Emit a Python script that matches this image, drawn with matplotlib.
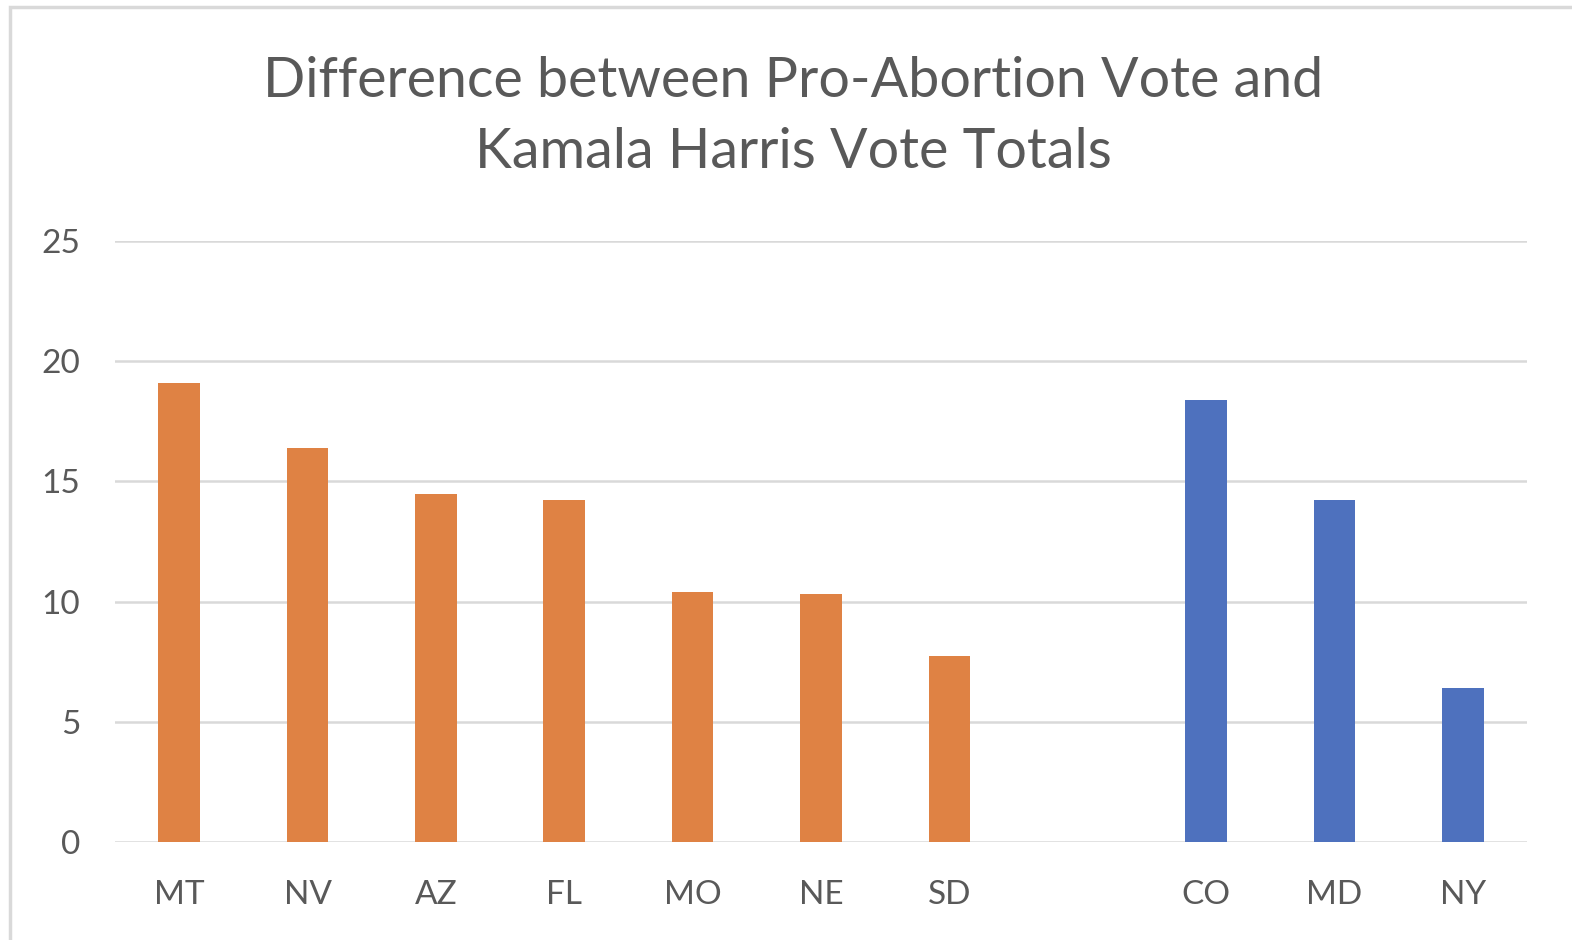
import matplotlib.pyplot as plt
from matplotlib.patches import Rectangle

states = ['MT', 'NV', 'AZ', 'FL', 'MO', 'NE', 'SD', '', 'CO', 'MD', 'NY']
orange_states = ['MT', 'NV', 'AZ', 'FL', 'MO', 'NE', 'SD']
orange_values = [19.08, 16.39, 14.49, 14.22, 10.40, 10.32, 7.72]
blue_states = ['CO', 'MD', 'NY']
blue_values = [18.38, 14.21, 6.42]
title_lines = ['Difference between Pro-Abortion Vote and', 'Kamala Harris Vote Totals']

ORANGE = '#DF8244'
BLUE = '#4E71BE'
TEXT = '#595959'
GRID = '#D9D9D9'

plt.rcParams['font.family'] = ['Lato', 'DejaVu Sans']

fig = plt.figure(figsize=(15.72, 9.4), dpi=100)
ax = fig.add_axes([115 / 1572, 98 / 940, 1412 / 1572, 601 / 940])

pos = {s: i for i, s in enumerate(states)}
ax.bar([pos[s] for s in orange_states], orange_values, width=0.325, color=ORANGE, zorder=3)
ax.bar([pos[s] for s in blue_states], blue_values, width=0.325, color=BLUE, zorder=3)

ax.set_xlim(-0.5, len(states) - 0.5)
ax.set_ylim(0, 25)
ax.set_yticks([0, 5, 10, 15, 20, 25])
ax.set_xticks(range(len(states)))
ax.set_xticklabels(states)
ax.grid(axis='y', color=GRID, linewidth=1.8, zorder=0)
for sp in ax.spines.values():
    sp.set_visible(False)
ax.tick_params(length=0, labelsize=24, labelcolor=TEXT)
ax.tick_params(axis='y', pad=25)
ax.tick_params(axis='x', pad=27)

# title, two lines placed by baseline
for line, base in zip(title_lines, [97, 168]):
    fig.text(793 / 1572, 1 - base / 940, line, ha='center', va='baseline',
             fontsize=40, color=TEXT)

fig.patches.append(Rectangle((10 / 1572, -0.1), 1.2, 1 - 7 / 940 + 0.1, transform=fig.transFigure,
                             fill=False, edgecolor=GRID, linewidth=2.5))

fig.savefig('out.png', dpi=100, facecolor='white')
